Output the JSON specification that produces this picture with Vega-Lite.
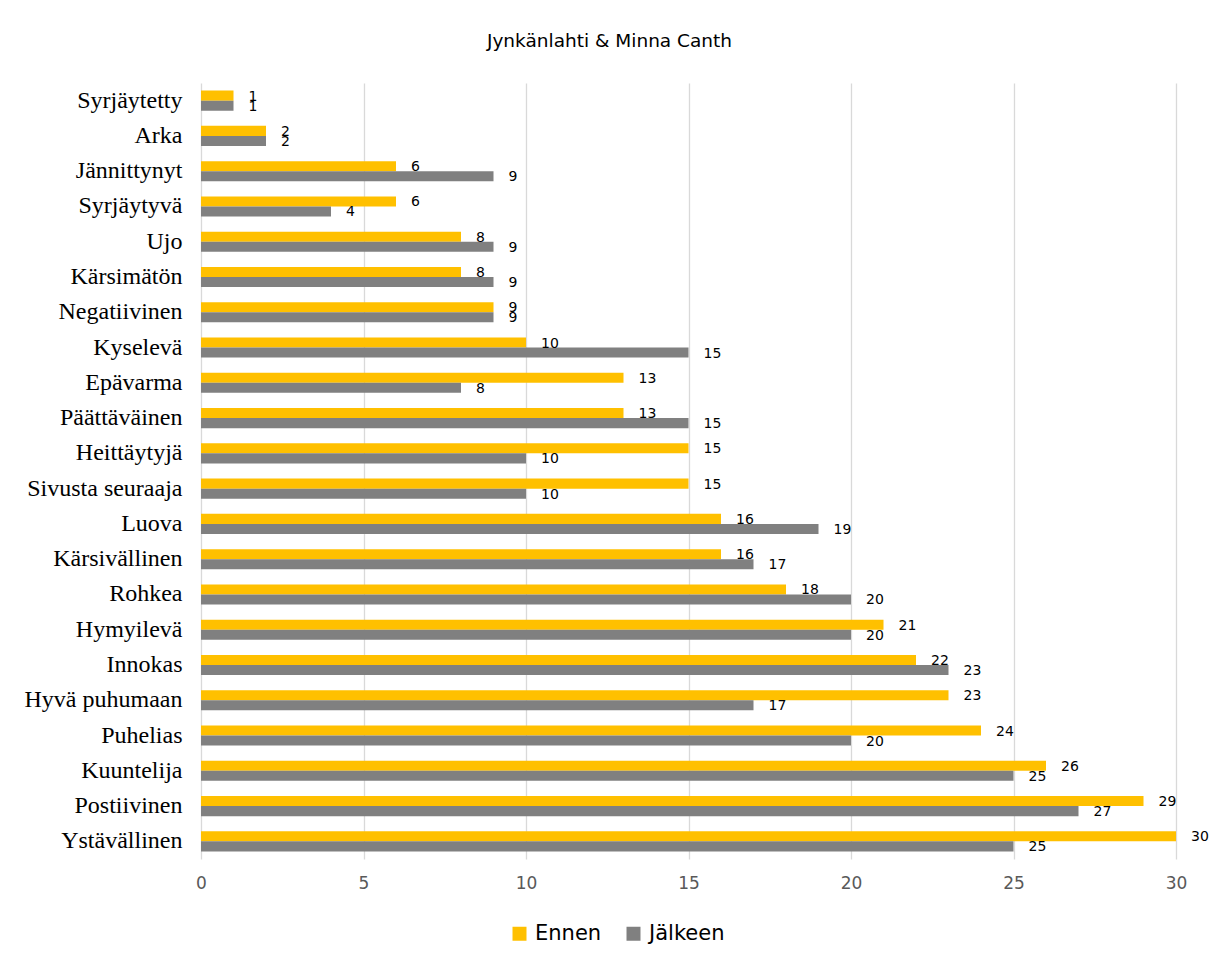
{
  "$schema": "https://vega.github.io/schema/vega-lite/v6.json",
  "width": 975,
  "height": 776,
  "autosize": {"type": "none"},
  "padding": {"left": 201, "top": 83, "right": 40, "bottom": 107},
  "background": "white",
  "title": {
    "text": "Jynkänlahti & Minna Canth",
    "font": "DejaVu Sans",
    "fontSize": 18.5,
    "fontWeight": "normal",
    "color": "#000000",
    "anchor": "middle",
    "dx": -79,
    "offset": 33
  },
  "data": {
    "values": [
      {"k": "Syrjäytetty", "s": "Ennen", "v": 1}, {"k": "Syrjäytetty", "s": "Jälkeen", "v": 1},
      {"k": "Arka", "s": "Ennen", "v": 2}, {"k": "Arka", "s": "Jälkeen", "v": 2},
      {"k": "Jännittynyt", "s": "Ennen", "v": 6}, {"k": "Jännittynyt", "s": "Jälkeen", "v": 9},
      {"k": "Syrjäytyvä ", "s": "Ennen", "v": 6}, {"k": "Syrjäytyvä ", "s": "Jälkeen", "v": 4},
      {"k": "Ujo", "s": "Ennen", "v": 8}, {"k": "Ujo", "s": "Jälkeen", "v": 9},
      {"k": "Kärsimätön ", "s": "Ennen", "v": 8}, {"k": "Kärsimätön ", "s": "Jälkeen", "v": 9},
      {"k": "Negatiivinen", "s": "Ennen", "v": 9}, {"k": "Negatiivinen", "s": "Jälkeen", "v": 9},
      {"k": "Kyselevä", "s": "Ennen", "v": 10}, {"k": "Kyselevä", "s": "Jälkeen", "v": 15},
      {"k": "Epävarma", "s": "Ennen", "v": 13}, {"k": "Epävarma", "s": "Jälkeen", "v": 8},
      {"k": "Päättäväinen ", "s": "Ennen", "v": 13}, {"k": "Päättäväinen ", "s": "Jälkeen", "v": 15},
      {"k": "Heittäytyjä", "s": "Ennen", "v": 15}, {"k": "Heittäytyjä", "s": "Jälkeen", "v": 10},
      {"k": "Sivusta seuraaja", "s": "Ennen", "v": 15}, {"k": "Sivusta seuraaja", "s": "Jälkeen", "v": 10},
      {"k": "Luova", "s": "Ennen", "v": 16}, {"k": "Luova", "s": "Jälkeen", "v": 19},
      {"k": "Kärsivällinen", "s": "Ennen", "v": 16}, {"k": "Kärsivällinen", "s": "Jälkeen", "v": 17},
      {"k": "Rohkea", "s": "Ennen", "v": 18}, {"k": "Rohkea", "s": "Jälkeen", "v": 20},
      {"k": "Hymyilevä ", "s": "Ennen", "v": 21}, {"k": "Hymyilevä ", "s": "Jälkeen", "v": 20},
      {"k": "Innokas", "s": "Ennen", "v": 22}, {"k": "Innokas", "s": "Jälkeen", "v": 23},
      {"k": "Hyvä puhumaan", "s": "Ennen", "v": 23}, {"k": "Hyvä puhumaan", "s": "Jälkeen", "v": 17},
      {"k": "Puhelias", "s": "Ennen", "v": 24}, {"k": "Puhelias", "s": "Jälkeen", "v": 20},
      {"k": "Kuuntelija", "s": "Ennen", "v": 26}, {"k": "Kuuntelija", "s": "Jälkeen", "v": 25},
      {"k": "Postiivinen", "s": "Ennen", "v": 29}, {"k": "Postiivinen", "s": "Jälkeen", "v": 27},
      {"k": "Ystävällinen", "s": "Ennen", "v": 30}, {"k": "Ystävällinen", "s": "Jälkeen", "v": 25}
    ]
  },
  "encoding": {
    "y": {
      "field": "k",
      "type": "nominal",
      "sort": null,
      "scale": {"paddingInner": 0.43, "paddingOuter": 0.215},
      "axis": {
        "title": null,
        "ticks": false,
        "domain": false,
        "labelFont": "Liberation Serif",
        "labelFontSize": 24,
        "labelColor": "#000000",
        "labelPadding": 19,
        "labelLimit": 300
      }
    },
    "yOffset": {
      "field": "s",
      "type": "nominal",
      "sort": ["Ennen", "Jälkeen"],
      "scale": {"paddingInner": 0, "paddingOuter": 0}
    },
    "x": {
      "field": "v",
      "type": "quantitative",
      "scale": {"domain": [0, 30], "nice": false},
      "axis": {
        "title": null,
        "values": [0, 5, 10, 15, 20, 25, 30],
        "ticks": false,
        "domain": false,
        "grid": true,
        "gridColor": "#d9d9d9",
        "gridWidth": 1.3,
        "labelFlush": false,
        "labelFont": "DejaVu Sans",
        "labelFontSize": 17,
        "labelColor": "#595959",
        "labelPadding": 16
      }
    }
  },
  "layer": [
    {
      "mark": {"type": "bar"},
      "encoding": {
        "color": {
          "field": "s",
          "type": "nominal",
          "scale": {"domain": ["Ennen", "Jälkeen"], "range": ["#FFC000", "#808080"]},
          "legend": {
            "title": null,
            "orient": "none",
            "direction": "horizontal",
            "legendX": 308,
            "legendY": 840,
            "symbolType": "square",
            "symbolSize": 196,
            "symbolStrokeWidth": 0,
            "labelFont": "DejaVu Sans",
            "labelFontSize": 21,
            "labelColor": "#000000",
            "labelOffset": 5,
            "columnPadding": 21
          }
        }
      }
    },
    {
      "mark": {
        "type": "text",
        "align": "left",
        "baseline": "middle",
        "dx": 15,
        "dy": 1,
        "font": "DejaVu Sans",
        "fontSize": 14,
        "color": "#000000"
      },
      "encoding": {"text": {"field": "v", "type": "quantitative"}}
    }
  ],
  "config": {"view": {"stroke": null}}
}
